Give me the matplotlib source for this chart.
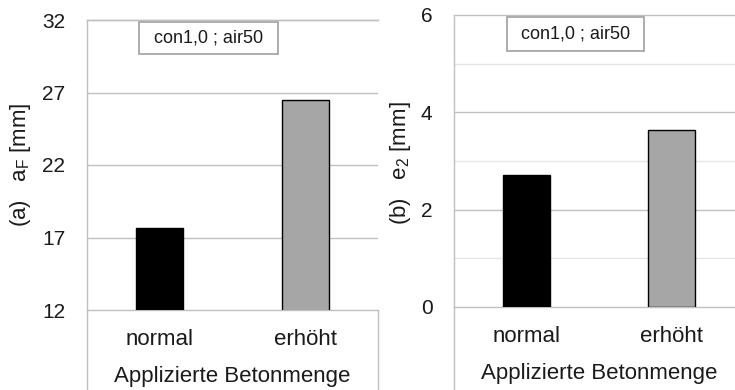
import matplotlib.pyplot as plt
from matplotlib.lines import Line2D
from matplotlib.patches import Rectangle

plt.rcParams['font.family'] = ['Liberation Sans', 'DejaVu Sans']
plt.rcParams['mathtext.fontset'] = 'custom'
plt.rcParams['mathtext.rm'] = 'Liberation Sans'
plt.rcParams['mathtext.it'] = 'Liberation Sans'

categories = ['normal', 'erhöht']
aF_values = [17.65, 26.5]
e2_values = [2.72, 3.64]
bar_colors = ['#000000', '#a6a6a6']
box_text = 'con1,0 ; air50'
xlabel = 'Applizierte Betonmenge'

grid_c = '#c0c0c0'
minor_c = '#e6e6e6'
txt_c = '#1a1a1a'

W, H = 735, 390
fig = plt.figure(figsize=(W / 100, H / 100), dpi=100)
fig.patch.set_facecolor('white')


def px(x0, y0, x1, y1):
    # pixel box (top-left origin) -> figure fraction rect
    return [x0 / W, 1 - y1 / H, (x1 - x0) / W, (y1 - y0) / H]


def panel(rect, values, ylim, yticks, minor, ylabel, label_xy, box):
    ax = fig.add_axes(rect)
    x = range(len(categories))
    ax.bar(x, values, width=0.32, color=bar_colors, edgecolor='black',
           linewidth=1.0, zorder=3)
    ax.set_xlim(-0.5, 1.5)
    ax.set_ylim(*ylim)
    ax.set_yticks(yticks)
    ax.set_yticklabels([str(t) for t in yticks])
    for m in minor:
        ax.axhline(m, color=minor_c, lw=1, zorder=1)
    for t in yticks[1:-1]:
        ax.axhline(t, color=grid_c, lw=1, zorder=1)
    ax.set_xticks(list(x))
    ax.set_xticklabels(categories)
    ax.tick_params(axis='both', length=0, colors=txt_c)
    ax.tick_params(axis='y', labelsize=15, pad=15.5)
    ax.tick_params(axis='x', labelsize=16, pad=14)
    ax.set_xlabel(xlabel, fontsize=16, color=txt_c, labelpad=11)
    ax.set_ylabel(ylabel, fontsize=16, color=txt_c)
    ax.yaxis.set_label_coords(*label_xy)
    for s in ['left', 'top', 'bottom']:
        ax.spines[s].set_color(grid_c)
        ax.spines[s].set_linewidth(1)
    ax.spines['right'].set_visible(False)
    x0, y0, x1, y1 = box
    ax.add_patch(Rectangle((x0, y0), x1 - x0, y1 - y0, transform=ax.transAxes,
                           facecolor='white', edgecolor='#a0a0a0', lw=1.2,
                           zorder=5, clip_on=False))
    ax.text((x0 + x1) / 2, (y0 + y1) / 2, box_text, transform=ax.transAxes,
            fontsize=13, color=txt_c, ha='center', va='center', zorder=6)
    return ax


ax1 = panel(px(87, 20, 378, 310), aF_values, (12, 32), [12, 17, 22, 27, 32], [],
            '(a)   a$_\\mathrm{F}$ [mm]', (-0.186, 0.5),
            (0.179, 0.883, 0.656, 0.993))
ax2 = panel(px(454, 15, 744, 307), e2_values, (0, 6), [0, 2, 4, 6], [1, 3, 5],
            '(b)   e$_2$ [mm]', (-0.141, 0.493),
            (0.183, 0.877, 0.655, 0.993))

# category area outlines below the plot areas
for xp, y0 in [(87, 310), (378, 310), (454, 307)]:
    fig.add_artist(Line2D([xp / W, xp / W], [0, 1 - y0 / H],
                          color=grid_c, lw=1))
fig.add_artist(Line2D([87 / W, 378 / W], [1 - 20 / H, 1 - 20 / H],
                      color=grid_c, lw=1))

fig.savefig('out.png', dpi=100, facecolor='white')
